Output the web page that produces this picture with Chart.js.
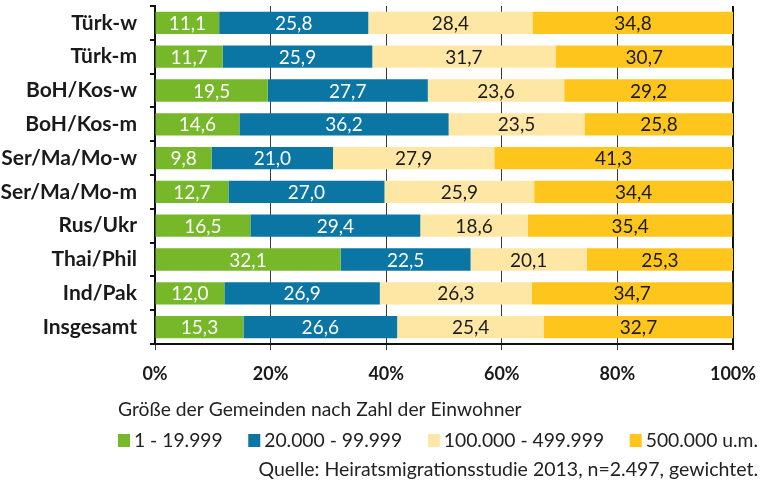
<!DOCTYPE html>
<html lang="de">
<head>
<meta charset="utf-8">
<title>Größe der Gemeinden nach Herkunftsgruppe</title>
<script src="https://cdn.jsdelivr.net/npm/chart.js@4"></script>
<style>
  html, body { margin: 0; padding: 0; background: #fff; }
  #wrap { width: 760px; height: 484px; position: relative; }
</style>
</head>
<body>
<div id="wrap"><canvas id="gemeindeChart"></canvas></div>
<script>
// Herkunftsgruppen (y-Achse)
const gruppen = ['Türk-w', 'Türk-m', 'BoH/Kos-w', 'BoH/Kos-m', 'Ser/Ma/Mo-w',
                 'Ser/Ma/Mo-m', 'Rus/Ukr', 'Thai/Phil', 'Ind/Pak', 'Insgesamt'];

// Anteile in Prozent je Gemeindegröße
const bis19999   = [11.1, 11.7, 19.5, 14.6,  9.8, 12.7, 16.5, 32.1, 12.0, 15.3];
const bis99999   = [25.8, 25.9, 27.7, 36.2, 21.0, 27.0, 29.4, 22.5, 26.9, 26.6];
const bis499999  = [28.4, 31.7, 23.6, 23.5, 27.9, 25.9, 18.6, 20.1, 26.3, 25.4];
const ab500000   = [34.8, 30.7, 29.2, 25.8, 41.3, 34.4, 35.4, 25.3, 34.7, 32.7];

const klassen = ['1 - 19.999', '20.000 - 99.999', '100.000 - 499.999', '500.000 u.m.'];
const xTicks = [0, 20, 40, 60, 80, 100];

const legendenTitel = 'Größe der Gemeinden nach Zahl der Einwohner';
const quelle = 'Quelle: Heiratsmigrationsstudie 2013, n=2.497, gewichtet.';

const farben = ['#76b82a', '#0b76a3', '#fee7a4', '#fec61d'];
const textFarben = ['#ffffff', '#ffffff', '#1a1a1a', '#1a1a1a'];

const SCHRIFT = 'Lato, "Noto Sans", sans-serif';
Chart.defaults.font.family = SCHRIFT;
Chart.defaults.color = '#1a1a1a';

// Werte mittig in die Balkensegmente schreiben (mit Dezimalkomma)
const wertBeschriftung = {
    id: 'wertBeschriftung',
    afterDatasetsDraw(chart) {
        const ctx = chart.ctx;
        ctx.save();
        ctx.font = '19px ' + SCHRIFT;
        ctx.textAlign = 'center';
        ctx.textBaseline = 'middle';
        chart.data.datasets.forEach((ds, i) => {
            const meta = chart.getDatasetMeta(i);
            ctx.fillStyle = textFarben[i];
            meta.data.forEach((bar, j) => {
                const x = (bar.x + bar.base) / 2;
                ctx.fillText(ds.data[j].toFixed(1).replace('.', ','), x, bar.y + 1);
            });
        });
        ctx.restore();
    }
};

// Legende mit Überschrift und Quellenangabe unter dem Diagramm
const legendeUnten = {
    id: 'legendeUnten',
    afterDraw(chart) {
        const ctx = chart.ctx;
        const links = 118, rechts = 758;
        ctx.save();
        ctx.font = '19.3px ' + SCHRIFT;
        ctx.fillStyle = '#222';
        ctx.textAlign = 'left';
        ctx.textBaseline = 'middle';
        ctx.fillText(legendenTitel, links, 410);

        // Einträge gleichmäßig zwischen links und rechts verteilen
        const breiten = chart.data.datasets.map(ds => 16 + ctx.measureText(ds.label).width);
        const summe = breiten.reduce((a, b) => a + b, 0);
        const luecke = (rechts - links - summe) / (breiten.length - 1);

        let x = links;
        const yZeile = 441;
        chart.data.datasets.forEach((ds, i) => {
            ctx.fillStyle = ds.backgroundColor;
            ctx.fillRect(x, yZeile - 7, 12, 13);
            ctx.fillStyle = '#222';
            ctx.fillText(ds.label, x + 16, yZeile);
            x += breiten[i] + luecke;
        });

        ctx.font = '19.5px ' + SCHRIFT;
        ctx.textAlign = 'right';
        ctx.fillText(quelle, rechts, 470);
        ctx.restore();
    }
};

const reihen = [bis19999, bis99999, bis499999, ab500000];

new Chart(document.getElementById('gemeindeChart'), {
    type: 'bar',
    data: {
        labels: gruppen,
        datasets: reihen.map((werte, i) => ({
            label: klassen[i],
            data: werte,
            backgroundColor: farben[i],
            borderWidth: 0,
            categoryPercentage: 0.66,
            barPercentage: 1.0
        }))
    },
    options: {
        indexAxis: 'y',
        responsive: true,
        maintainAspectRatio: false,
        animation: false,
        layout: { padding: { top: 6, right: 27, left: 0, bottom: 94 } },
        scales: {
            x: {
                stacked: true,
                min: 0,
                max: 100,
                afterBuildTicks(scale) {
                    scale.ticks = xTicks.map(v => ({ value: v }));
                },
                afterFit(scale) {
                    scale.height = 46;
                    scale.paddingLeft = 0;
                    scale.paddingRight = 0;
                },
                ticks: {
                    callback: v => v + '%',
                    font: { size: 18, weight: 'bold' },
                    padding: 13,
                    maxRotation: 0
                },
                grid: {
                    color: ctx => ctx.index === xTicks.length - 1 ? '#111' : '#3a3a3a',
                    lineWidth: ctx => ctx.index === xTicks.length - 1 ? 2 : 1,
                    tickLength: 6
                },
                border: { display: true, color: '#111', width: 2 }
            },
            y: {
                stacked: true,
                afterFit(scale) {
                    scale.width = 155;
                    scale.paddingTop = 0;
                    scale.paddingBottom = 0;
                },
                ticks: {
                    font: { size: 21, weight: 'bold' },
                    padding: 13
                },
                grid: {
                    display: true,
                    drawOnChartArea: false,
                    offset: true,
                    tickLength: 5,
                    color: '#111',
                    lineWidth: 2
                },
                border: { display: true, color: '#111', width: 2 }
            }
        },
        plugins: {
            legend: { display: false },
            title: { display: false },
            tooltip: { enabled: false }
        }
    },
    plugins: [wertBeschriftung, legendeUnten]
});
</script>
</body>
</html>
